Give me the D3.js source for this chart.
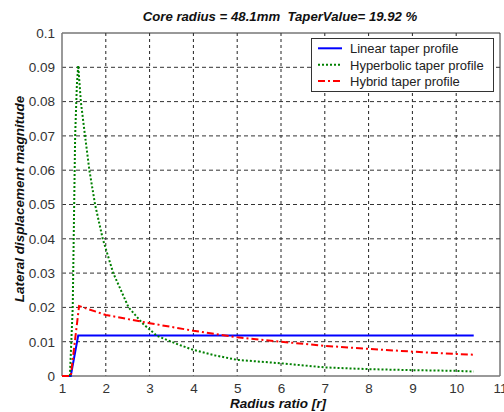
<!DOCTYPE html>
<html>
<head>
<meta charset="utf-8">
<script src="https://cdn.jsdelivr.net/npm/d3@7"></script>
<style>
  html, body { margin: 0; padding: 0; background: #fff; }
  svg { display: block; font-family: "Liberation Sans", Arial, sans-serif; }
  .pre { white-space: pre; }
</style>
</head>
<body>
<svg id="chart" width="504" height="412"></svg>
<script>
// Radius ratio samples and lateral displacement for each taper profile
const linearR = [1, 1.2, 1.37, 10.4];
const linearV = [0, 0, 0.0118, 0.0118];

const hyperR = [1, 1.18, 1.245, 1.3, 1.34, 1.37, 1.43, 1.526, 1.625, 1.755, 1.93, 2.17, 2.52,
                2.85, 3.17, 3.65, 4, 4.5, 5, 6, 7, 8, 9, 10, 10.4];
const hyperV = [0, 0, 0.02, 0.07, 0.085, 0.0905, 0.08, 0.07, 0.06, 0.05, 0.04, 0.03, 0.02,
                0.0152, 0.0117, 0.0092, 0.0076, 0.006, 0.0047, 0.0037, 0.0025, 0.002, 0.0017, 0.0015, 0.0013];

const hybridR = [1, 1.2, 1.39, 2, 3, 4, 5, 6, 7, 8, 9, 10, 10.4];
const hybridV = [0, 0, 0.0204, 0.0178, 0.0154, 0.0132, 0.0113, 0.0100, 0.0088, 0.0079, 0.0071, 0.0064, 0.0062];

const xTicks = [1, 2, 3, 4, 5, 6, 7, 8, 9, 10, 11];
const yTicks = [0, 0.01, 0.02, 0.03, 0.04, 0.05, 0.06, 0.07, 0.08, 0.09, 0.1];

const seriesNames = ["Linear taper profile", "Hyperbolic taper profile", "Hybrid taper profile"];

const svg = d3.select("#chart");
const plotLeft = 62, plotRight = 500, plotTop = 33, plotBottom = 376;

const x = d3.scaleLinear().domain([1, 11]).range([plotLeft, plotRight]);
const y = d3.scaleLinear().domain([0, 0.1]).range([plotBottom, plotTop]);

// grid
const grid = svg.append("g");
grid.selectAll("line.vx").data(xTicks.slice(1, -1)).enter().append("line")
  .attr("x1", d => x(d)).attr("x2", d => x(d)).attr("y1", plotTop).attr("y2", plotBottom)
  .attr("stroke", "#222").attr("stroke-width", 1).attr("stroke-dasharray", "3,3");
grid.selectAll("line.hy").data(yTicks.slice(1, -1)).enter().append("line")
  .attr("y1", d => y(d)).attr("y2", d => y(d)).attr("x1", plotLeft).attr("x2", plotRight)
  .attr("stroke", "#333").attr("stroke-width", 1).attr("stroke-dasharray", "4,3");

// axes
const xAxis = d3.axisBottom(x).tickValues(xTicks).tickSize(0).tickPadding(7).tickFormat(d3.format("d"));
const yAxis = d3.axisLeft(y).tickValues(yTicks).tickSize(0).tickPadding(7).tickFormat(d => d === 0 ? "0" : d3.format("~g")(d));

const gx = svg.append("g").attr("transform", `translate(0,${plotBottom})`).call(xAxis);
const gy = svg.append("g").attr("transform", `translate(${plotLeft},0)`).call(yAxis);
[gx, gy].forEach(g => {
  g.select(".domain").remove();
  g.selectAll("text").attr("font-size", 13.5).attr("fill", "#333")
    .attr("font-family", "Liberation Sans, Arial, sans-serif");
});

// frame
svg.append("line").attr("x1", plotLeft).attr("x2", plotRight).attr("y1", plotTop).attr("y2", plotTop).attr("stroke", "#333").attr("stroke-width", 1);
svg.append("line").attr("x1", plotRight).attr("x2", plotRight).attr("y1", plotTop).attr("y2", plotBottom).attr("stroke", "#333").attr("stroke-width", 1);
svg.append("line").attr("x1", plotLeft).attr("x2", plotRight).attr("y1", plotBottom).attr("y2", plotBottom).attr("stroke", "#777").attr("stroke-width", 1.5);
svg.append("line").attr("x1", plotLeft).attr("x2", plotLeft).attr("y1", plotTop).attr("y2", plotBottom).attr("stroke", "#777").attr("stroke-width", 1.5);

// series
const line = d3.line().x(d => x(d[0])).y(d => y(d[1]));
const series = [
  { pts: d3.zip(linearR, linearV), color: "#0000ff", dash: null },
  { pts: d3.zip(hyperR, hyperV), color: "#008000", dash: "2,2" },
  { pts: d3.zip(hybridR, hybridV), color: "#ff0000", dash: "7,3,2,3" }
];
series.forEach(s => {
  svg.append("path").datum(s.pts).attr("d", line)
    .attr("fill", "none").attr("stroke", s.color).attr("stroke-width", 2)
    .attr("stroke-dasharray", s.dash);
});

// legend
const lg = svg.append("g");
lg.append("rect").attr("x", 311.5).attr("y", 38.5).attr("width", 182).attr("height", 53)
  .attr("fill", "#fff").attr("stroke", "#333").attr("stroke-width", 1);
series.forEach((s, i) => {
  const yy = 48.3 + i * 16.4;
  lg.append("line").attr("x1", 318).attr("x2", 342).attr("y1", yy).attr("y2", yy)
    .attr("stroke", s.color).attr("stroke-width", 2).attr("stroke-dasharray", s.dash);
  lg.append("text").attr("x", 350).attr("y", yy + 5).text(seriesNames[i])
    .attr("font-size", 13).attr("fill", "#222");
});

// titles
svg.append("text").attr("class", "pre").attr("x", 280).attr("y", 21).attr("text-anchor", "middle")
  .attr("font-size", 13.2).attr("font-weight", "bold").attr("font-style", "italic").attr("fill", "#111")
  .text("Core radius = 48.1mm  TaperValue= 19.92 %");
svg.append("text").attr("x", 278).attr("y", 408).attr("text-anchor", "middle")
  .attr("font-size", 13.5).attr("font-weight", "bold").attr("font-style", "italic").attr("fill", "#111")
  .text("Radius ratio [r]");
svg.append("text").attr("transform", "translate(24,199) rotate(-90)").attr("text-anchor", "middle")
  .attr("font-size", 13.5).attr("font-weight", "bold").attr("font-style", "italic").attr("fill", "#111")
  .text("Lateral displacement magnitude");
</script>
</body>
</html>
